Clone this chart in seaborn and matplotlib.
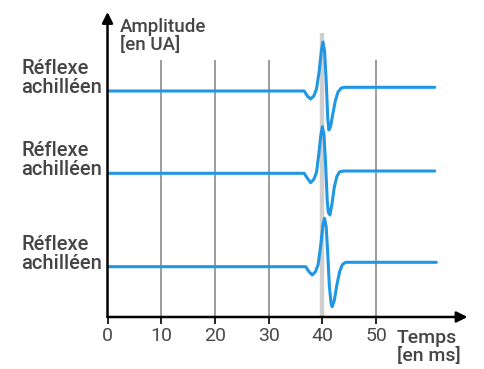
import pandas as pd
import matplotlib.pyplot as plt
import seaborn as sns
import numpy as np

sns.set_theme(style="white")
plt.rcParams['font.family'] = ['Roboto', 'DejaVu Sans']

# time (ms) and amplitude (UA, relative to baseline)
t1 = [0, 36.6, 37.2, 37.8, 38.4, 38.9, 39.4, 39.8, 40.1, 40.4, 40.7, 41.0, 41.2, 41.5, 41.9, 42.4, 42.9, 43.5, 44.2, 60.9]
a1 = [0, 0, -5, -8, -5, 2, 20, 40, 49, 40, 10, -28, -39, -36, -24, -10, -1, 3, 3.7, 3.7]
t2 = [0, 36.6, 37.2, 37.8, 38.4, 38.9, 39.3, 39.7, 40.0, 40.3, 40.6, 40.9, 41.1, 41.4, 41.8, 42.2, 42.7, 43.2, 44.0, 60.9]
a2 = [0, 0, -5, -9.4, -6, 1, 18, 38, 46.6, 38, 8, -28, -39, -41.7, -30, -14, -3, 1.5, 2.3, 2.3]
t3 = [0, 36.9, 37.5, 38.1, 38.7, 39.2, 39.7, 40.1, 40.4, 40.7, 41.0, 41.3, 41.6, 41.8, 42.2, 42.7, 43.2, 43.7, 44.3, 61.2]
a3 = [0, 0, -5, -8.3, -5, 2, 22, 42, 48.4, 40, 12, -20, -36, -40, -34, -18, -5, 2, 4.4, 4.4]
baselines = [226, 143.7, 50.3]
trace_label = "Réflexe\nachilléen"
xticks = [0, 10, 20, 30, 40, 50]
blue = "#1f97e3"
txt = "#454545"

frames = []
for k, (t, a) in enumerate([(t1, a1), (t2, a2), (t3, a3)]):
    frames.append(pd.DataFrame({'t': t, 'a': np.array(a) + baselines[k], 'trace': k}))
df = pd.concat(frames, ignore_index=True)

fig = plt.figure(figsize=(4.84, 3.69), dpi=100)
ax = fig.add_axes([107.5 / 484, 52 / 369, 360 / 484, 305 / 369])

# grid lines
for x in xticks[1:]:
    if x == 40:
        ax.vlines(x, 0, 284, color="#cfcfcf", lw=3.2, zorder=1)
    else:
        ax.vlines(x, 0, 257, color="#9c9c9c", lw=1.4, zorder=1)

for k in range(3):
    sns.lineplot(data=df[df['trace'] == k], x='t', y='a', sort=False, color=blue,
                 lw=2.2, ax=ax, zorder=3, solid_joinstyle='round', solid_capstyle='round')
    ax.text(-1, baselines[k] + 13, trace_label, ha='right', va='center', multialignment='left',
            fontsize=14.5, fontweight='medium', color=txt, linespacing=1.0)

ax.set_xlim(0, 67)
ax.set_ylim(0, 305)
for s in ax.spines.values():
    s.set_visible(False)
ax.set_xticks(xticks)
ax.set_xticklabels([str(x) for x in xticks])
ax.set_yticks([])
ax.tick_params(axis='x', length=5, width=1.4, color='#222222', pad=2, labelsize=14, labelcolor='#4a4a4a', bottom=True)
ax.set_xlabel('')
ax.set_ylabel('')

# axis arrows
ax.annotate('', xy=(1.0, 0), xytext=(0, 0), xycoords='axes fraction',
            arrowprops=dict(arrowstyle='-|>', color='black', lw=1.8, mutation_scale=16, shrinkA=0, shrinkB=0))
ax.annotate('', xy=(0, 1.0), xytext=(0, 0), xycoords='axes fraction',
            arrowprops=dict(arrowstyle='-|>', color='black', lw=1.8, mutation_scale=16, shrinkA=0, shrinkB=0))

ax.text(2.3, 281, "Amplitude\n[en UA]", ha='left', va='center', fontsize=13.5, fontweight='medium',
        color=txt, linespacing=1.0)
ax.text(53.8, -12, "Temps\n[en ms]", ha='left', va='top', fontsize=14, fontweight='medium',
        color=txt, linespacing=1.0)

fig.savefig("out.png", dpi=100)
